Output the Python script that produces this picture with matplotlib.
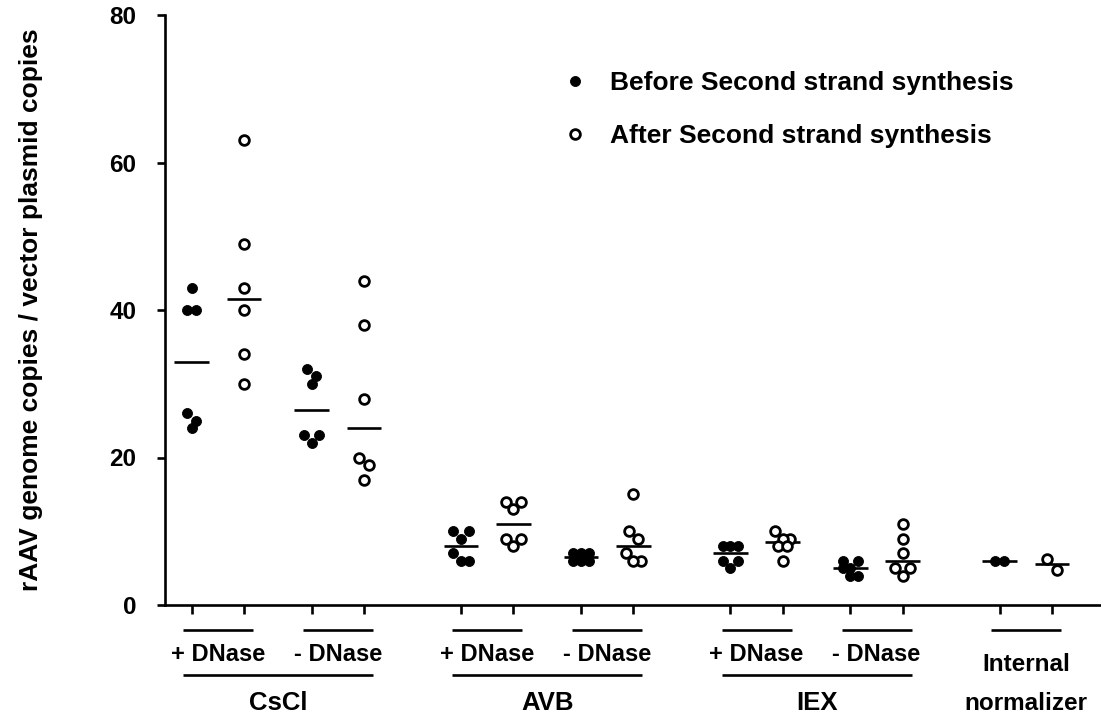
import numpy as np
import matplotlib
matplotlib.use('Agg')
import matplotlib.pyplot as plt
from matplotlib.lines import Line2D

# ---------------- data ----------------
group_names = ['CsCl', 'AVB', 'IEX']
last_group_lines = ['Internal', 'normalizer']
condition_names = ['+ DNase', '- DNase']
series_names = ['Before Second strand synthesis', 'After Second strand synthesis']

cscl_plus_before = [43, 40, 40, 26, 25, 24]
cscl_plus_after = [63, 49, 43, 40, 34, 30]
cscl_minus_before = [32, 31, 30, 23, 23, 22]
cscl_minus_after = [44, 38, 28, 20, 19, 17]
avb_plus_before = [10, 10, 9, 7, 6, 6]
avb_plus_after = [14, 14, 13, 9, 9, 8]
avb_minus_before = [7, 7, 7, 6, 6, 6]
avb_minus_after = [15, 10, 9, 7, 6, 6]
iex_plus_before = [8, 8, 8, 6, 6, 5]
iex_plus_after = [10, 9, 9, 8, 8, 6]
iex_minus_before = [6, 6, 5, 5, 4, 4]
iex_minus_after = [11, 9, 7, 5, 5, 4]
norm_before = [6, 6]
norm_after = [6.2, 4.8]

y_ticks = [0, 20, 40, 60, 80]
y_label = 'rAAV genome copies / vector plasmid copies'

columns = [
    (cscl_plus_before, cscl_plus_after),
    (cscl_minus_before, cscl_minus_after),
    (avb_plus_before, avb_plus_after),
    (avb_minus_before, avb_minus_after),
    (iex_plus_before, iex_plus_after),
    (iex_minus_before, iex_minus_after),
    (norm_before, norm_after),
]
pairs_per_group = [2, 2, 2, 1]

# ---------------- layout ----------------
FONT = ['Liberation Sans', 'DejaVu Sans']
plt.rcParams['font.family'] = FONT
plt.rcParams['font.weight'] = 'bold'

W, H = 1101, 719
fig = plt.figure(figsize=(W / 100, H / 100), dpi=100)
ax_left, ax_right, ax_bottom, ax_top = 165, 1101, 605, 15
ax = fig.add_axes([ax_left / W, 1 - ax_bottom / H,
                   (ax_right - ax_left) / W, (ax_bottom - ax_top) / H])

PAIR_GAP = 1.295
GROUP_GAP = 1.855
positions = []
group_spans = []
x = 0.0
for g, npairs in enumerate(pairs_per_group):
    start = x
    for p in range(npairs):
        positions.append((x, x + 1))
        x += 1 + PAIR_GAP
    group_spans.append((start, x - PAIR_GAP))
    x += GROUP_GAP - PAIR_GAP

ax.set_xlim(-0.5105, 17.386)
ax.set_ylim(0, 80)
fig.canvas.draw()
ppu = ax.transData.transform((1, 0))[0] - ax.transData.transform((0, 0))[0]

LW = 1.9
W_PX = 7.6
ROW_TOL = 1.5

FILLED = dict(marker='o', ls='none', ms=7.2, mfc='black', mec='black', mew=0.6)
OPEN = dict(marker='o', ls='none', ms=7.0, mfc='white', mec='black', mew=2.0)


def swarm_offsets(vals):
    order = np.argsort(-np.asarray(vals, dtype=float), kind='stable')
    offs = np.zeros(len(vals))
    rows = []
    for i in order:
        if rows and len(rows[-1]) < 3 and vals[rows[-1][0]] - vals[i] <= ROW_TOL:
            rows[-1].append(i)
        else:
            rows.append([i])
    patterns = {1: [0], 2: [-0.6, 0.6], 3: [-1, 1, 0]}
    for r in rows:
        for k, idx in enumerate(r):
            offs[idx] = patterns[len(r)][k] * W_PX / ppu
    return offs


for (before, after), (xb, xa) in zip(columns, positions):
    for vals, xc, style in ((before, xb, FILLED), (after, xa, OPEN)):
        xs = xc + swarm_offsets(vals)
        ax.plot(xs, vals, zorder=3, clip_on=False, **style)
        ax.hlines(np.median(vals), xc - 0.33, xc + 0.33, colors='black',
                  lw=LW, zorder=2)

# axes styling
for s in ['top', 'right']:
    ax.spines[s].set_visible(False)
for s in ['left', 'bottom']:
    ax.spines[s].set_linewidth(LW)
ax.set_yticks(y_ticks)
ax.set_yticklabels([str(v) for v in y_ticks], fontsize=17.5, fontweight='bold')
ax.tick_params(axis='y', length=6, width=LW, pad=14.5)
all_ticks = [p for pr in positions for p in pr]
ax.set_xticks(all_ticks)
ax.set_xticklabels([])
ax.tick_params(axis='x', length=6.5, width=LW)
ax.set_ylabel(y_label, fontsize=19, fontweight='bold')
ax.yaxis.set_label_coords((43 - ax_left) / (ax_right - ax_left), 0.5)

# category annotations under the axis
tr = ax.get_xaxis_transform()


def yfrac(ypx):
    return (ax_bottom - ypx) / (ax_bottom - ax_top)


ext = 0.17
for ci, (xb, xa) in enumerate(positions):
    ax.plot([xb - ext, xa + ext], [yfrac(630)] * 2, color='black', lw=LW,
            transform=tr, clip_on=False, solid_capstyle='butt')
    if ci < 6:
        ax.text((xb + xa) / 2, yfrac(661), condition_names[ci % 2],
                transform=tr, ha='center', va='baseline', fontsize=17,
                fontweight='bold')

for g, name in enumerate(group_names):
    s, e = group_spans[g]
    ax.plot([s - ext, e + ext], [yfrac(675)] * 2, color='black', lw=LW,
            transform=tr, clip_on=False, solid_capstyle='butt')
    ax.text((s + e) / 2, yfrac(710), name, transform=tr, ha='center',
            va='baseline', fontsize=18.5, fontweight='bold')

s, e = group_spans[3]
ax.text((s + e) / 2, yfrac(671), last_group_lines[0], transform=tr,
        ha='center', va='baseline', fontsize=17.5, fontweight='bold')
ax.text((s + e) / 2, yfrac(710), last_group_lines[1], transform=tr,
        ha='center', va='baseline', fontsize=17.5, fontweight='bold')

# legend
handles = [Line2D([], [], **FILLED), Line2D([], [], **OPEN)]
leg = ax.legend(handles, series_names, loc='upper left',
                bbox_to_anchor=(567 / W, 1 - 71 / H), bbox_transform=fig.transFigure,
                frameon=False, prop={'family': FONT, 'weight': 'bold', 'size': 19},
                handlelength=0.6, handletextpad=1.03, labelspacing=1.1,
                borderpad=0, borderaxespad=0)

fig.savefig('out.png', dpi=100, facecolor='white')
